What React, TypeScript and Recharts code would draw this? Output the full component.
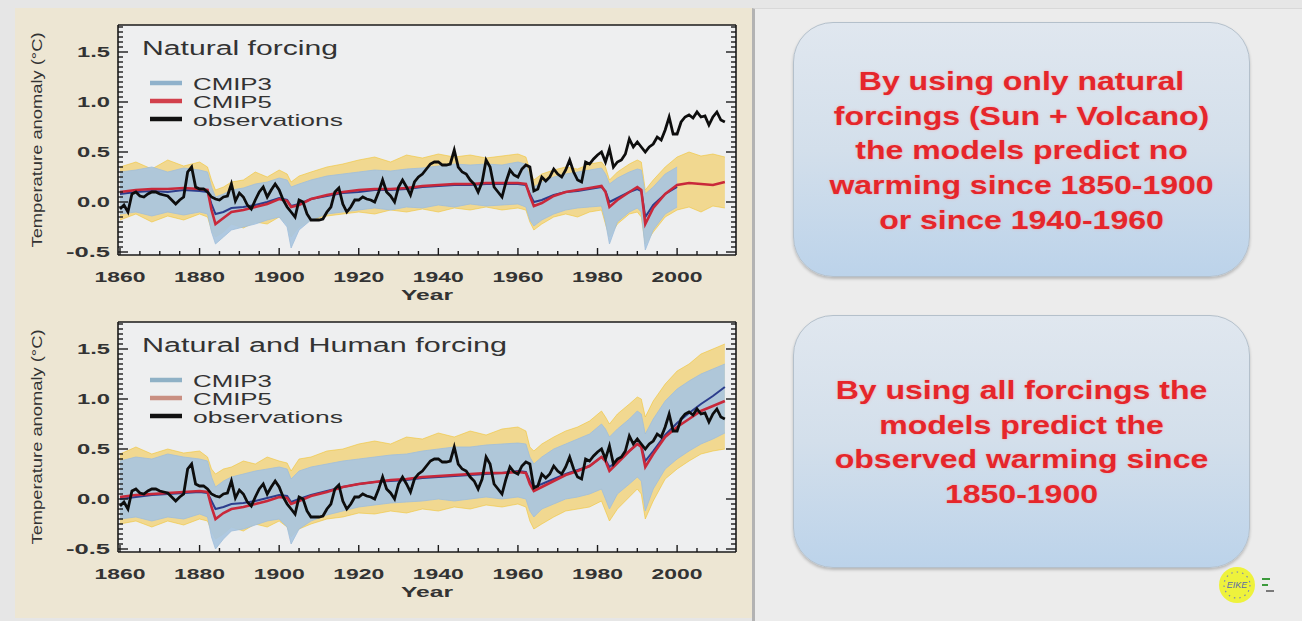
import React from 'react';
import { ComposedChart, Area, Line, XAxis, YAxis, CartesianGrid } from 'recharts';

// ---------------- data ----------------
const START_YEAR = 1860;
const OBS = [
  -0.07, -0.03, -0.10, 0.08, 0.10, 0.06, 0.05, 0.08, 0.10, 0.10,
  0.08, 0.07, 0.06, 0.02, -0.02, 0.02, 0.05, 0.30, 0.35, 0.15,
  0.13, 0.13, 0.10, 0.05, 0.03, 0.02, 0.05, 0.06, 0.18, 0.01,
  0.09, 0.05, -0.03, -0.07, 0.02, 0.10, 0.15, 0.05, 0.12, 0.18,
  0.12, 0.02, -0.05, -0.10, -0.15, 0.02, 0.00, -0.12, -0.18, -0.18,
  -0.18, -0.17, -0.10, -0.05, 0.10, 0.14, -0.02, -0.10, -0.05, 0.02,
  0.02, 0.05, 0.03, 0.02, 0.00, 0.10, 0.22, 0.10, 0.06, 0.00,
  0.15, 0.22, 0.15, 0.07, 0.20, 0.25, 0.28, 0.33, 0.38, 0.40,
  0.40, 0.37, 0.37, 0.38, 0.52, 0.35, 0.30, 0.28, 0.22, 0.18,
  0.10, 0.20, 0.42, 0.35, 0.15, 0.10, 0.05, 0.20, 0.32, 0.27,
  0.25, 0.33, 0.37, 0.35, 0.11, 0.13, 0.25, 0.21, 0.25, 0.33,
  0.28, 0.25, 0.32, 0.42, 0.30, 0.22, 0.20, 0.40, 0.38, 0.43,
  0.47, 0.50, 0.40, 0.53, 0.35, 0.40, 0.42, 0.48, 0.63, 0.55,
  0.60, 0.55, 0.50, 0.55, 0.58, 0.65, 0.62, 0.72, 0.85, 0.68,
  0.68, 0.80, 0.85, 0.87, 0.84, 0.90, 0.85, 0.86, 0.77, 0.85,
  0.90, 0.82, 0.80,
];

const MODEL_YEARS = [
  1860, 1864, 1868, 1872, 1876, 1880, 1882, 1883, 1884, 1886,
  1888, 1891, 1894, 1897, 1900, 1902, 1903, 1905, 1908, 1912,
  1916, 1920, 1924, 1928, 1932, 1936, 1940, 1944, 1948, 1952,
  1956, 1960, 1962, 1963, 1964, 1966, 1969, 1972, 1975, 1978,
  1981, 1982, 1983, 1985, 1988, 1990, 1991, 1992, 1994, 1997,
  2000, 2003, 2006, 2009, 2012,
];

// Natural forcing panel
const NAT_C5 = [
  0.10, 0.12, 0.13, 0.13, 0.14, 0.13, 0.12, -0.08, -0.22, -0.16,
  -0.10, -0.08, -0.05, -0.02, 0.03, 0.01, -0.05, -0.03, 0.03, 0.07,
  0.10, 0.12, 0.13, 0.13, 0.14, 0.16, 0.17, 0.18, 0.18, 0.19,
  0.19, 0.19, 0.18, 0.06, -0.04, -0.01, 0.06, 0.10, 0.12, 0.14,
  0.16, 0.10, -0.05, 0.02, 0.10, 0.15, 0.12, -0.22, -0.06, 0.08,
  0.17, 0.19, 0.18, 0.17, 0.20,
];
const NAT_C3 = [
  0.08, 0.10, 0.11, 0.10, 0.12, 0.11, 0.10, -0.02, -0.12, -0.10,
  -0.06, -0.05, -0.03, 0.00, 0.04, 0.02, -0.04, -0.02, 0.03, 0.06,
  0.09, 0.10, 0.12, 0.12, 0.13, 0.15, 0.16, 0.17, 0.17, 0.18,
  0.18, 0.18, 0.17, 0.08, 0.00, 0.02, 0.07, 0.10, 0.11, 0.13,
  0.15, 0.11, 0.00, 0.04, 0.10, 0.13, 0.11, -0.15, -0.03, 0.08,
  0.15,
];
const NAT_C3_LO = [
  -0.12, -0.10, -0.14, -0.10, -0.13, -0.10, -0.12, -0.30, -0.42, -0.35,
  -0.28, -0.25, -0.22, -0.18, -0.15, -0.25, -0.46, -0.28, -0.18, -0.12,
  -0.10, -0.08, -0.06, -0.08, -0.05, -0.06, -0.03, -0.05, -0.02, -0.04,
  -0.03, -0.02, -0.05, -0.18, -0.24, -0.18, -0.12, -0.08, -0.06, -0.05,
  -0.04, -0.20, -0.42, -0.20, -0.10, -0.06, -0.10, -0.48, -0.28, -0.12,
  -0.05,
];
const NAT_C3_HI = [
  0.30, 0.32, 0.35, 0.30, 0.34, 0.32, 0.30, 0.15, 0.05, 0.08,
  0.12, 0.14, 0.18, 0.20, 0.24, 0.22, 0.15, 0.18, 0.22, 0.26,
  0.28, 0.30, 0.32, 0.31, 0.33, 0.34, 0.36, 0.38, 0.37, 0.38,
  0.37, 0.40, 0.38, 0.25, 0.15, 0.20, 0.25, 0.28, 0.30, 0.32,
  0.34, 0.28, 0.18, 0.24, 0.30, 0.33, 0.32, 0.08, 0.15, 0.28,
  0.35,
];
const NAT_C5_LO = [
  -0.18, -0.12, -0.20, -0.14, -0.18, -0.12, -0.15, -0.28, -0.35, -0.30,
  -0.22, -0.26, -0.20, -0.22, -0.15, -0.22, -0.35, -0.25, -0.18, -0.14,
  -0.12, -0.10, -0.12, -0.08, -0.10, -0.07, -0.10, -0.06, -0.08, -0.05,
  -0.08, -0.06, -0.08, -0.20, -0.28, -0.22, -0.15, -0.12, -0.15, -0.10,
  -0.08, -0.22, -0.35, -0.22, -0.12, -0.10, -0.15, -0.42, -0.30, -0.15,
  -0.08, -0.05, -0.10, -0.04, -0.06,
];
const NAT_C5_HI = [
  0.35, 0.40, 0.33, 0.42, 0.36, 0.40, 0.35, 0.22, 0.12, 0.15,
  0.20, 0.22, 0.30, 0.25, 0.32, 0.28, 0.20, 0.26, 0.30, 0.35,
  0.38, 0.42, 0.45, 0.40, 0.47, 0.44, 0.48, 0.45, 0.47, 0.44,
  0.46, 0.48, 0.45, 0.32, 0.22, 0.28, 0.32, 0.35, 0.33, 0.38,
  0.40, 0.35, 0.22, 0.30, 0.38, 0.42, 0.40, 0.12, 0.22, 0.35,
  0.45, 0.50, 0.46, 0.48, 0.45,
];

// Natural and Human forcing panel
const ALL_C5 = [
  0.02, 0.04, 0.05, 0.06, 0.07, 0.08, 0.07, -0.08, -0.20, -0.14,
  -0.10, -0.08, -0.05, -0.02, 0.02, 0.01, -0.05, -0.02, 0.03, 0.07,
  0.12, 0.15, 0.17, 0.19, 0.20, 0.22, 0.23, 0.24, 0.25, 0.26,
  0.26, 0.27, 0.26, 0.15, 0.08, 0.12, 0.18, 0.24, 0.28, 0.33,
  0.42, 0.38, 0.28, 0.36, 0.48, 0.55, 0.52, 0.32, 0.45, 0.62,
  0.72, 0.80, 0.88, 0.93, 0.98,
];
const ALL_C3 = [
  0.00, 0.02, 0.04, 0.05, 0.06, 0.07, 0.06, -0.02, -0.10, -0.08,
  -0.05, -0.04, -0.02, 0.01, 0.04, 0.03, -0.03, 0.00, 0.04, 0.08,
  0.12, 0.15, 0.17, 0.18, 0.19, 0.21, 0.22, 0.23, 0.24, 0.25,
  0.26, 0.28, 0.27, 0.18, 0.12, 0.15, 0.20, 0.25, 0.29, 0.33,
  0.42, 0.39, 0.32, 0.38, 0.48, 0.55, 0.53, 0.38, 0.48, 0.64,
  0.76, 0.86, 0.95, 1.03, 1.12,
];
const ALL_C3_LO = [
  -0.20, -0.18, -0.22, -0.18, -0.20, -0.15, -0.18, -0.38, -0.50, -0.40,
  -0.32, -0.30, -0.26, -0.22, -0.20, -0.28, -0.45, -0.30, -0.22, -0.16,
  -0.12, -0.08, -0.06, -0.04, -0.03, -0.02, 0.00, -0.02, 0.00, 0.02,
  0.00, 0.02, 0.00, -0.12, -0.18, -0.10, -0.05, 0.00, 0.02, 0.05,
  0.10, 0.00, -0.10, 0.05, 0.15, 0.22, 0.18, -0.12, 0.10, 0.30,
  0.40, 0.48, 0.55, 0.60, 0.66,
];
const ALL_C3_HI = [
  0.38, 0.42, 0.40, 0.45, 0.42, 0.40, 0.38, 0.22, 0.12, 0.18,
  0.22, 0.25, 0.28, 0.30, 0.32, 0.30, 0.20, 0.28, 0.32, 0.35,
  0.38, 0.40, 0.42, 0.44, 0.45, 0.48, 0.50, 0.52, 0.52, 0.54,
  0.55, 0.56, 0.55, 0.42, 0.35, 0.42, 0.50, 0.55, 0.60, 0.65,
  0.75, 0.70, 0.62, 0.70, 0.80, 0.88, 0.85, 0.65, 0.80, 0.98,
  1.10, 1.18, 1.25, 1.30, 1.35,
];
const ALL_C5_LO = [
  -0.25, -0.22, -0.28, -0.22, -0.26, -0.20, -0.22, -0.32, -0.40, -0.35,
  -0.28, -0.32, -0.25, -0.28, -0.22, -0.28, -0.38, -0.30, -0.25, -0.20,
  -0.18, -0.14, -0.15, -0.12, -0.14, -0.10, -0.12, -0.08, -0.10, -0.06,
  -0.08, -0.05, -0.08, -0.22, -0.30, -0.25, -0.18, -0.12, -0.10, -0.08,
  -0.02, -0.12, -0.22, -0.10, 0.02, 0.10, 0.05, -0.20, -0.02, 0.20,
  0.30, 0.38, 0.45, 0.48, 0.50,
];
const ALL_C5_HI = [
  0.45, 0.52, 0.45, 0.50, 0.46, 0.48, 0.42, 0.30, 0.25, 0.30,
  0.32, 0.38, 0.35, 0.42, 0.38, 0.36, 0.28, 0.40, 0.42, 0.48,
  0.50, 0.55, 0.58, 0.55, 0.62, 0.60, 0.66, 0.62, 0.68, 0.64,
  0.70, 0.72, 0.68, 0.52, 0.48, 0.55, 0.62, 0.68, 0.72, 0.78,
  0.88, 0.82, 0.75, 0.85, 0.95, 1.02, 1.00, 0.82, 0.98, 1.15,
  1.28, 1.35, 1.45, 1.50, 1.55,
];

const X_TICKS = [1860, 1865, 1870, 1875, 1880, 1885, 1890, 1895, 1900, 1905, 1910, 1915, 1920, 1925, 1930, 1935, 1940, 1945, 1950, 1955, 1960, 1965, 1970, 1975, 1980, 1985, 1990, 1995, 2000, 2005, 2010];
const X_LABELS = [1860, 1880, 1900, 1920, 1940, 1960, 1980, 2000];
const Y_TICKS = [-0.5, -0.45, -0.4, -0.35, -0.3, -0.25, -0.2, -0.15, -0.1, -0.05, 0, 0.05, 0.1, 0.15, 0.2, 0.25, 0.3, 0.35, 0.4, 0.45, 0.5, 0.55, 0.6, 0.65, 0.7, 0.75, 0.8, 0.85, 0.9, 0.95, 1, 1.05, 1.1, 1.15, 1.2, 1.25, 1.3, 1.35, 1.4, 1.45, 1.5, 1.55, 1.6, 1.65, 1.7, 1.75];
const Y_LABELS = [-0.5, 0, 0.5, 1, 1.5];
const Y_LABEL_TEXT = ['-0.5', '0.0', '0.5', '1.0', '1.5'];

const LEGEND_NAMES = ['CMIP3', 'CMIP5', 'observations'];
const TOP_TITLE = 'Natural forcing';
const BOTTOM_TITLE = 'Natural and Human forcing';
const BOX1_LINES = ['By using only natural', 'forcings (Sun + Volcano)', 'the models predict no', 'warming since 1850-1900', 'or since 1940-1960'];
const BOX2_LINES = ['By using all forcings the', 'models predict the', 'observed warming since', '1850-1900'];

// ---------------- layout constants ----------------
const CW = 750;
const CH = 305;
const X_DOMAIN: [number, number] = [1859.5, 2014.8];
const Y_DOMAIN: [number, number] = [-0.53, 1.77];
const FONT = '"Liberation Sans", Arial, Helvetica, sans-serif';
const INK = '#1a1a1a';
const TXT = '#333333';

const obsRows = OBS.map((v, i) => ({ year: START_YEAR + i, obs: v }));

function buildRows(c5: number[], c3: number[], c3lo: number[], c3hi: number[], c5lo: number[], c5hi: number[]) {
  return MODEL_YEARS.map((y, i) => ({
    year: y,
    c5: c5[i],
    c3: i < c3.length ? c3[i] : undefined,
    blue: i < c3lo.length ? [c3lo[i], c3hi[i]] : undefined,
    yel: [c5lo[i], c5hi[i]],
  }));
}
const natRows = buildRows(NAT_C5, NAT_C3, NAT_C3_LO, NAT_C3_HI, NAT_C5_LO, NAT_C5_HI);
const allRows = buildRows(ALL_C5, ALL_C3, ALL_C3_LO, ALL_C3_HI, ALL_C5_LO, ALL_C5_HI);

const yMajorIndex = (v: number) => Y_LABELS.findIndex((l) => Math.abs(l - v) < 1e-6);
const isXMajor = (v: number) => X_LABELS.indexOf(v) >= 0;

// ---------------- ticks ----------------
const LeftTick = (p: any) => {
  const { x, y, payload } = p;
  const mi = yMajorIndex(payload.value);
  const major = mi >= 0;
  const label = major ? Y_LABEL_TEXT[mi] : '';
  return (
    <g>
      <line x1={x} x2={x + (major ? 10 : 5)} y1={y} y2={y} stroke={INK} strokeWidth={1.4} />
      {major && (
        <text x={x - 8} y={y + 5} textAnchor="end" fontFamily={FONT} fontSize={14} fontWeight="bold" fill={TXT}
          textLength={label.length * 11} lengthAdjust="spacingAndGlyphs">{label}</text>
      )}
    </g>
  );
};
const RightTick = (p: any) => {
  const { x, y, payload } = p;
  const major = yMajorIndex(payload.value) >= 0;
  return <line x1={x} x2={x - (major ? 10 : 5)} y1={y} y2={y} stroke={INK} strokeWidth={1.4} />;
};
const BottomTick = (p: any) => {
  const { x, y, payload } = p;
  const major = isXMajor(payload.value);
  return (
    <g>
      <line x1={x} x2={x} y1={y} y2={y - (major ? 7 : 4)} stroke={INK} strokeWidth={1.4} />
      {major && (
        <text x={x} y={y + 27} textAnchor="middle" fontFamily={FONT} fontSize={14} fontWeight="bold" fill={TXT}
          textLength={51} lengthAdjust="spacingAndGlyphs">{String(payload.value)}</text>
      )}
    </g>
  );
};
const TopTick = (p: any) => {
  const { x, y, payload } = p;
  const major = isXMajor(payload.value);
  return <line x1={x} x2={x} y1={y} y2={y + (major ? 7 : 4)} stroke={INK} strokeWidth={1.4} />;
};
const YLabel = () => (
  <text x={36} y={140} transform="rotate(-90, 36, 140)" textAnchor="middle" dominantBaseline="central"
    fontFamily={FONT} fontSize={15} fill={TXT} textLength={215} lengthAdjust="spacingAndGlyphs">
    Temperature anomaly (°C)
  </text>
);
const XLabel = () => (
  <text x={427} y={300} textAnchor="middle" fontFamily={FONT} fontSize={15} fontWeight="bold" fill={TXT}
    textLength={52} lengthAdjust="spacingAndGlyphs">Year</text>
);

type PanelProps = {
  top: number;
  title: string;
  titleLen: number;
  rows: any[];
  legendColors: string[];
};

function Panel({ top, title, titleLen, rows, legendColors }: PanelProps) {
  const legendLens = [79, 79, 150];
  return (
    <div style={{ position: 'absolute', left: 0, top, width: CW, height: CH }}>
      <div style={{ position: 'absolute', left: 0, top: 0 }}>
        <ComposedChart width={CW} height={CH} data={rows} margin={{ top: 15, right: 0, bottom: 0, left: 0 }}>
          <CartesianGrid xAxisId="b" yAxisId="l" fill="#eeeff0" horizontal={false} vertical={false} />
          <XAxis xAxisId="b" dataKey="year" type="number" domain={X_DOMAIN} allowDataOverflow ticks={X_TICKS}
            interval={0} tickSize={0} tickMargin={0} tickLine={false} tick={<BottomTick />}
            axisLine={{ stroke: INK, strokeWidth: 1.6 }} height={50} label={<XLabel />} />
          <XAxis xAxisId="t" orientation="top" type="number" domain={X_DOMAIN} allowDataOverflow ticks={X_TICKS}
            interval={0} tickSize={0} tickMargin={0} tickLine={false} tick={<TopTick />}
            axisLine={{ stroke: INK, strokeWidth: 1.6 }} height={10} />
          <YAxis yAxisId="l" type="number" domain={Y_DOMAIN} allowDataOverflow ticks={Y_TICKS}
            interval={0} tickSize={0} tickMargin={0} tickLine={false} tick={<LeftTick />}
            axisLine={{ stroke: INK, strokeWidth: 1.6 }} width={118} label={<YLabel />} />
          <YAxis yAxisId="r" orientation="right" type="number" domain={Y_DOMAIN} allowDataOverflow ticks={Y_TICKS}
            interval={0} tickSize={0} tickMargin={0} tickLine={false} tick={<RightTick />}
            axisLine={{ stroke: INK, strokeWidth: 1.6 }} width={14} />
          <Area xAxisId="b" yAxisId="l" dataKey="yel" type="linear" fill="#f3c230" fillOpacity={0.5}
            stroke="#f2c535" strokeOpacity={0.6} strokeWidth={1} isAnimationActive={false} dot={false} activeDot={false} />
          <Area xAxisId="b" yAxisId="l" dataKey="blue" type="linear" fill="#a9c5e0" fillOpacity={0.92}
            stroke="#a0bedb" strokeWidth={0.8} isAnimationActive={false} dot={false} activeDot={false} />
          <Line xAxisId="b" yAxisId="l" dataKey="c3" type="linear" stroke="#2c3d8c" strokeWidth={2}
            dot={false} activeDot={false} isAnimationActive={false} />
          <Line xAxisId="b" yAxisId="l" dataKey="c5" type="linear" stroke="#c9283a" strokeWidth={2.6}
            dot={false} activeDot={false} isAnimationActive={false} />
        </ComposedChart>
      </div>
      <div style={{ position: 'absolute', left: 0, top: 0, pointerEvents: 'none' }}>
        <ComposedChart width={CW} height={CH} data={obsRows} margin={{ top: 25, right: 14, bottom: 50, left: 118 }}>
          <XAxis dataKey="year" type="number" domain={X_DOMAIN} allowDataOverflow hide />
          <YAxis type="number" domain={Y_DOMAIN} allowDataOverflow hide />
          <Line dataKey="obs" type="linear" stroke="#0d0d0d" strokeWidth={2.8} dot={false} activeDot={false}
            isAnimationActive={false} />
        </ComposedChart>
      </div>
      <svg width={CW} height={CH} style={{ position: 'absolute', left: 0, top: 0, pointerEvents: 'none' }}>
        <text x={142} y={55} fontFamily={FONT} fontSize={20} fill={TXT} textLength={titleLen}
          lengthAdjust="spacingAndGlyphs">{title}</text>
        {LEGEND_NAMES.map((name, i) => (
          <g key={name}>
            <line x1={150} x2={182} y1={83 + i * 18} y2={83 + i * 18} stroke={legendColors[i]} strokeWidth={4.5} />
            <text x={193} y={90 + i * 18} fontFamily={FONT} fontSize={17} fill={TXT} textLength={legendLens[i]}
              lengthAdjust="spacingAndGlyphs">{name}</text>
          </g>
        ))}
      </svg>
    </div>
  );
}

function TextBox({ top, height, lines, textTop }: { top: number; height: number; lines: string[]; textTop: number }) {
  return (
    <div style={{
      position: 'absolute', left: 793, top, width: 457, height, borderRadius: 40,
      background: 'linear-gradient(180deg, #e0e7ef 0%, #d3dfeb 50%, #bcd3ea 100%)',
      border: '1px solid #b4c0cb', boxShadow: '0 2px 3px rgba(0,0,0,0.22)', boxSizing: 'border-box',
    }}>
      <div style={{
        position: 'absolute', left: 0, right: 0, top: textTop, textAlign: 'center',
        fontFamily: FONT, fontWeight: 'bold', fontSize: 25, lineHeight: '34.7px', color: '#e5262b',
        whiteSpace: 'nowrap', transform: 'scaleX(1.28)', transformOrigin: '50% 0',
        textShadow: '0 0 2px rgba(245,150,150,0.8)',
      }}>
        {lines.map((l) => <div key={l}>{l}</div>)}
      </div>
    </div>
  );
}

export default function App() {
  return (
    <div style={{ position: 'absolute', left: 0, top: 0, width: 1302, height: 621, background: '#e6e6e6', overflow: 'hidden' }}>
      <div style={{ position: 'absolute', left: 15, top: 8, width: 737, height: 610, background: '#ede6d3' }} />
      <div style={{ position: 'absolute', left: 752, top: 8, width: 550, height: 613, background: '#ececec', borderLeft: '3px solid #b3b3b3', borderTop: '1px solid #d8d8d8', boxSizing: 'border-box' }} />
      <Panel top={0} title={TOP_TITLE} titleLen={196} rows={natRows} legendColors={['#8fb1cb', '#d2404c', '#111111']} />
      <Panel top={297} title={BOTTOM_TITLE} titleLen={365} rows={allRows} legendColors={['#8fb1c6', '#c98f82', '#111111']} />
      <TextBox top={22} height={255} lines={BOX1_LINES} textTop={41} />
      <TextBox top={315} height={253} lines={BOX2_LINES} textTop={57} />
      <svg width={60} height={40} style={{ position: 'absolute', left: 1218, top: 566 }}>
        <circle cx={19} cy={19} r={18} fill="#eef23c" />
        <circle cx={19} cy={19} r={13} fill="none" stroke="#7d86b0" strokeWidth={1.2} strokeDasharray="1.5 4" />
        <text x={19} y={22} textAnchor="middle" fontFamily={FONT} fontSize={9} fontStyle="italic" fill="#5a6aa8">EIKE</text>
        <line x1={44} x2={52} y1={13} y2={13} stroke="#3c9a3c" strokeWidth={2} />
        <line x1={44} x2={50} y1={19} y2={19} stroke="#3c9a3c" strokeWidth={2} />
        <line x1={48} x2={56} y1={25} y2={25} stroke="#555" strokeWidth={1.5} />
      </svg>
    </div>
  );
}
